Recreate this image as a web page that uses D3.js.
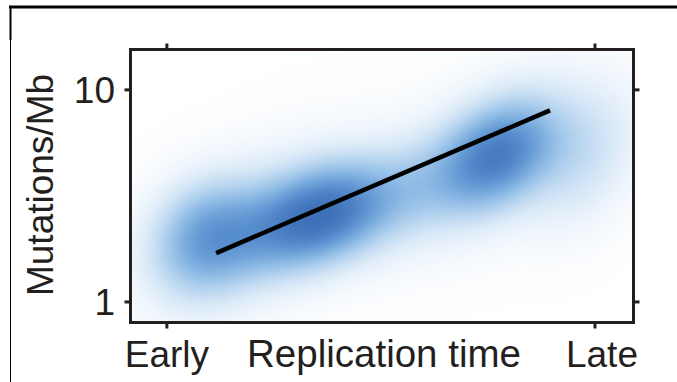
<html>
<head>
<title>Mutations vs replication time</title>
<script src="https://cdnjs.cloudflare.com/ajax/libs/d3/7.8.5/d3.min.js"></script>
<style>
  body { margin: 0; background: #fff; }
  text { font-family: "Liberation Sans", Arial, Helvetica, sans-serif; fill: #231f20; }
</style>
</head>
<body>
<div class="chart"></div>
<script>
// replication time axis: 0 = early, 1 = late
var timeTicks = [0, 1];
var timeLabels = ["Early", "Late"];
var rateTicks = [1, 10];
var rateLabels = ["1", "10"];

// density clusters (time, mutations/Mb, spread in time, spread in log10 rate, tilt, weight)
var clusterTime   = [0.09, 0.36, 0.58, 0.77, 0.98, 0.22, 0.74];
var clusterRate   = [2.0, 2.55, 3.5, 4.9, 4.8, 2.3, 4.6];
var clusterSdTime = [0.09, 0.12, 0.08, 0.095, 0.09, 0.17, 0.17];
var clusterSdRate = [0.19, 0.17, 0.18, 0.18, 0.24, 0.3, 0.3];
var clusterTilt   = [0.15, 0.35, 0.3, 0.35, 0.3, 0.5, 0.5];
var clusterWeight = [0.62, 1.0, 0.15, 0.82, 0.25, 0.18, 0.18];

// fitted trend
var fitTime = [0.115, 0.895];
var fitRate = [1.70, 8.0];

var W = 677, H = 382;
var svg = d3.select(".chart").append("svg").attr("width", W).attr("height", H);

var box = {left: 130.5, right: 633.5, top: 49.5, bottom: 322.5};
var x = d3.scaleLinear().domain([-0.085, 1.09]).range([box.left, box.right]);
var y = d3.scaleLog().domain([0.8, 15.5]).range([box.bottom, box.top]);

function density(t, r){
  var lr = Math.log10(r), s = 0;
  for(var k = 0; k < clusterTime.length; k++){
    var dx = (t - clusterTime[k]) / clusterSdTime[k];
    var dy = (lr - Math.log10(clusterRate[k])) / clusterSdRate[k];
    var p = clusterTilt[k];
    var q = (dx*dx - 2*p*dx*dy + dy*dy) / (1 - p*p);
    s += clusterWeight[k] * Math.exp(-q/2);
  }
  return s;
}

// grid of cells
var step = 3;
var cells = [];
for(var px = box.left; px < box.right; px += step){
  for(var py = box.top; py < box.bottom; py += step){
    var t0 = x.invert(px), t1 = x.invert(px + step);
    var r0 = y.invert(py + step), r1 = y.invert(py);
    cells.push({t0: t0, t1: t1, r0: r0, r1: r1,
      v: density((t0 + t1)/2, Math.sqrt(r0*r1))});
  }
}
var vmax = d3.max(cells, function(d){ return d.v; });
var ramp = d3.interpolateRgbBasis(["#ffffff", "#e6f0fa", "#b3d3ef", "#7eb0e0", "#5088cb", "#3d6fb6"]);
var color = d3.scalePow().exponent(0.9).domain([0, vmax]).range([0, 1]);

var defs = svg.append("defs");
defs.append("clipPath").attr("id", "plotclip").append("rect")
  .attr("x", box.left).attr("y", box.top)
  .attr("width", box.right - box.left).attr("height", box.bottom - box.top);
defs.append("filter").attr("id", "soft")
  .append("feGaussianBlur").attr("stdDeviation", 1.5);

svg.append("g").attr("clip-path", "url(#plotclip)")
  .append("g").attr("filter", "url(#soft)")
  .selectAll("rect").data(cells).enter().append("rect")
  .attr("x", function(d){ return x(d.t0); })
  .attr("y", function(d){ return y(d.r1); })
  .attr("width", function(d){ return x(d.t1) - x(d.t0) + 0.6; })
  .attr("height", function(d){ return y(d.r0) - y(d.r1) + 0.6; })
  .attr("fill", function(d){ return ramp(color(d.v)); });

// trend line
svg.append("line")
  .attr("x1", x(fitTime[0])).attr("y1", y(fitRate[0]))
  .attr("x2", x(fitTime[1])).attr("y2", y(fitRate[1]))
  .style("stroke", "#000").style("stroke-width", 4.5);

// frame of panel
svg.append("rect")
  .attr("x", box.left).attr("y", box.top)
  .attr("width", box.right - box.left).attr("height", box.bottom - box.top)
  .style("fill", "none").style("stroke", "#231f20").style("stroke-width", 3);

var tk = 6;
var g = svg.append("g").style("stroke", "#231f20").style("stroke-width", 3);
timeTicks.forEach(function(t){
  g.append("line").attr("x1", x(t)).attr("x2", x(t)).attr("y1", box.top).attr("y2", box.top - tk);
  g.append("line").attr("x1", x(t)).attr("x2", x(t)).attr("y1", box.bottom).attr("y2", box.bottom + tk);
});
rateTicks.forEach(function(r){
  g.append("line").attr("y1", y(r)).attr("y2", y(r)).attr("x1", box.left).attr("x2", box.left - tk);
  g.append("line").attr("y1", y(r)).attr("y2", y(r)).attr("x1", box.right).attr("x2", box.right + tk);
});

// labels
var fs = 37;
svg.selectAll(".ylab").data(rateTicks).enter().append("text")
  .attr("x", 115).attr("y", function(d){ return y(d); })
  .attr("dy", "0.36em").attr("text-anchor", "end")
  .style("font-size", fs + "px")
  .text(function(d, i){ return rateLabels[i]; });

svg.selectAll(".xlab").data(timeTicks).enter().append("text")
  .attr("x", function(d, i){ return x(d) + (i == 1 ? 7 : 0); }).attr("y", 367)
  .attr("text-anchor", "middle")
  .style("font-size", fs + "px")
  .text(function(d, i){ return timeLabels[i]; });

svg.append("text").attr("x", 384).attr("y", 367)
  .attr("text-anchor", "middle").style("font-size", "38.5px")
  .text("Replication time");

svg.append("text").attr("transform", "translate(53,185) rotate(-90)")
  .attr("text-anchor", "middle").style("font-size", fs + "px")
  .text("Mutations/Mb");

// outer crop lines of the figure
svg.append("line").attr("x1", 9).attr("x2", W).attr("y1", 7).attr("y2", 7)
  .style("stroke", "#000").style("stroke-width", 3);
svg.append("line").attr("x1", 10.5).attr("x2", 10.5).attr("y1", 6).attr("y2", 40)
  .style("stroke", "#000").style("stroke-width", 2);
svg.append("line").attr("x1", 10.5).attr("x2", 10.5).attr("y1", 40).attr("y2", H)
  .style("stroke", "#000").style("stroke-width", 1);
</script>
</body>
</html>
